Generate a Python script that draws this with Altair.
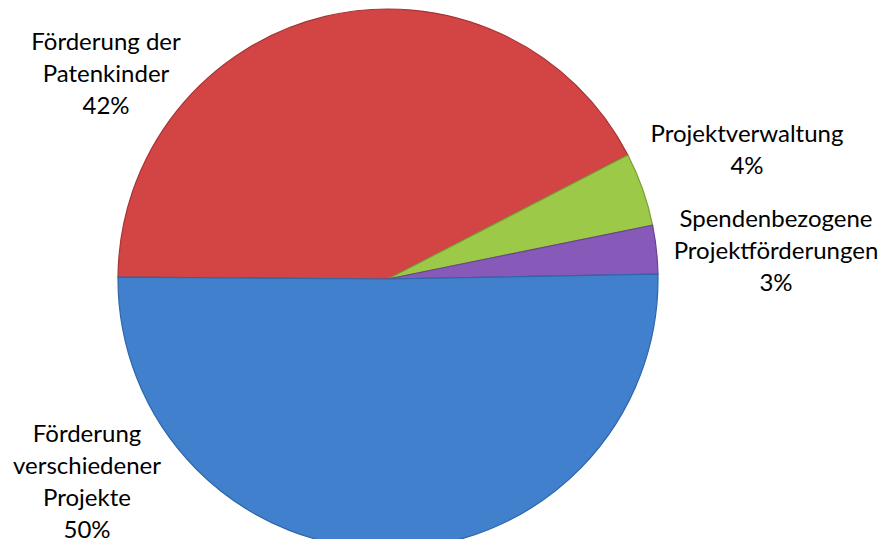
import math
import altair as alt
import pandas as pd

# Data
categories = ["Förderung der Patenkinder", "Projektverwaltung",
              "Spendenbezogene Projektförderungen", "Förderung verschiedener Projekte"]
values = [42.3, 4.4, 2.9, 50.4]
label_lines = [["Förderung der", "Patenkinder"],
               ["Projektverwaltung"],
               ["Spendenbezogene", "Projektförderungen"],
               ["Förderung", "verschiedener", "Projekte"]]
colors = ["#D34545", "#9CC947", "#8759B9", "#4080CD"]
strokes = ["#A83434", "#7A9E36", "#6A4392", "#2F66A8"]

# Style / layout
W, H = 871, 531
CX, CY, R = 380, 271, 270
start = math.radians(270.4)
# position of the first line of each label (chart pixels)
label_pos = [(98, 35), (739, 127), (768, 212), (79, 427)]
FONT = "Lato"
FS = 24

total = sum(values)
df = pd.DataFrame({
    "cat": categories,
    "value": values,
    "order": list(range(len(categories))),
})
df["label"] = [lines + [f"{round(v / total * 100)}%"] for lines, v in zip(label_lines, values)]

pie = alt.Chart(df).mark_arc(outerRadius=R, strokeWidth=1.2).encode(
    theta=alt.Theta("value:Q", stack=True,
                    scale=alt.Scale(range=[start, start + 2 * math.pi])),
    order=alt.Order("order:Q"),
    color=alt.Color("cat:N", scale=alt.Scale(domain=categories, range=colors), legend=None),
    stroke=alt.Stroke("cat:N", scale=alt.Scale(domain=categories, range=strokes), legend=None),
    x=alt.value(CX),
    y=alt.value(CY),
)

layers = [pie]
for i, cat in enumerate(categories):
    lx, ly = label_pos[i]
    t = alt.Chart(df).transform_filter(alt.datum.cat == cat).mark_text(
        font=FONT, fontSize=FS, color="#000000", align="center", baseline="middle",
        lineHeight=32,
    ).encode(
        text="label",
        x=alt.value(lx),
        y=alt.value(ly),
    )
    layers.append(t)

chart = alt.layer(*layers).properties(
    width=W, height=H, autosize=alt.AutoSizeParams(type="none"), padding=0,
).configure_view(stroke=None)

chart.save("out.html", embed_options={"renderer": "svg", "actions": False})
